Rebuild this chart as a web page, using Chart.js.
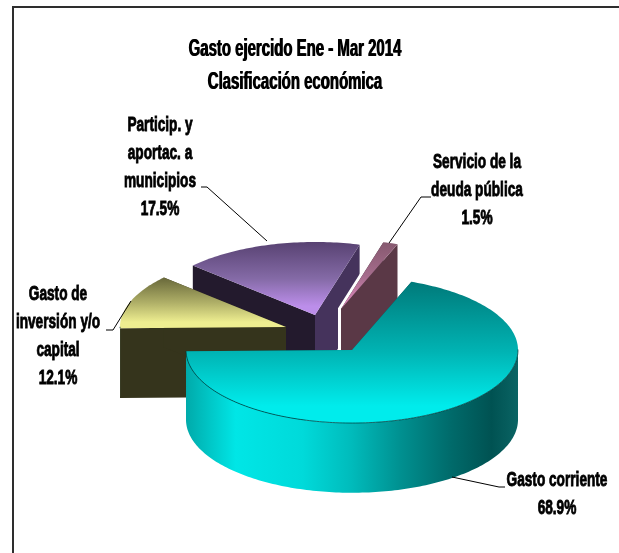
<!DOCTYPE html>
<html>
<head>
<meta charset="utf-8">
<title>Gasto ejercido Ene - Mar 2014</title>
<script src="https://cdn.jsdelivr.net/npm/chart.js@4"></script>
<style>
  html, body { margin: 0; padding: 0; background: #fff; overflow: hidden; }
  #frame { position: absolute; left: 12px; top: 6px; width: 607px; height: 547px; border-top: 2px solid #2e2e2e; border-left: 2px solid #2e2e2e; box-sizing: border-box; }
  #pie { position: absolute; left: 0; top: 0; }
</style>
</head>
<body>
<div id="frame"></div>
<canvas id="pie" width="619" height="553"></canvas>
<script>
// Spending by economic class
const categories = ["Gasto corriente", "Gasto de inversión y/o capital", "Particip. y aportac. a municipios", "Servicio de la deuda pública"];
const values = [68.9, 12.1, 17.5, 1.5];
const titleLines = ["Gasto ejercido Ene - Mar 2014", "Clasificación económica"];
const labelLines = [["Gasto corriente"], ["Gasto de", "inversión y/o", "capital"], ["Particip. y", "aportac. a", "municipios"], ["Servicio de la", "deuda pública"]];

const FONT = '"Liberation Sans", Arial, sans-serif';
const TEXT_SQUEEZE = 0.65;   // the text is set very condensed
const TITLE_CENTER = 295;

// per slice look: how far it is pulled out, its size, and the shades of each face
const sliceStyles = [
  { dx: 57, dy: 0, reach: 1, back: "#007a7a", mid: "#00b4b4", front: "#00ecec", startFace: "#004c4c", endFace: "#004c4c" },
  { dx: -9, dy: -23, reach: 1, back: "#68683a", mid: "#b0b068", front: "#eeee90", startFace: "#35341c", endFace: "#35341c" },
  { dx: 20, dy: -35, reach: 1, back: "#584272", mid: "#846aa6", front: "#bc8eea", startFace: "#231a2d", endFace: "#45335c" },
  { dx: 46, dy: -41, reach: 0.95, back: "#86596f", mid: "#a56c8c", front: "#d484b4", startFace: "#3a2630", endFace: "#5a3846", gap: true }
];

// text block placement, with the elbow leader that runs to the slice
const labelStyles = [
  { x: 557, y: 480, leader: [[505, 487], [499, 487], [452, 477]] },
  { x: 58, y: 294, leader: [[106, 330], [113, 330], [131, 301]] },
  { x: 160, y: 125, leader: [[201, 187], [207, 187], [267, 241]] },
  { x: 477, y: 162, leader: [[431, 197], [421, 197], [389, 243]] }
];

const LINE_GAP = 28;
const TILT = 0.44;    // height of the flattened circle against its width
const DEPTH = 0.42;   // wall height, as a share of the radius

function topPoint(o, r, ang) { return [o.x + r * Math.cos(ang), o.y + r * TILT * Math.sin(ang)]; }
function lowPoint(o, r, ang, depth) { const p = topPoint(o, r, ang); return [p[0], p[1] + depth]; }

function trace(ctx, pts) {
  ctx.beginPath();
  pts.forEach((p, i) => (i ? ctx.lineTo(p[0], p[1]) : ctx.moveTo(p[0], p[1])));
  ctx.closePath();
}

function arcSamples(from, to) {
  const steps = Math.max(4, Math.ceil((to - from) / 0.02));
  const out = [];
  for (let i = 0; i <= steps; i++) out.push(from + (to - from) * i / steps);
  return out;
}

function drawSlice(ctx, arc, style) {
  const r = arc.outerRadius * style.reach;
  const depth = arc.outerRadius * DEPTH;
  const a0 = arc.startAngle, a1 = arc.endAngle;
  const o = { x: arc.x + style.dx, y: arc.y + style.dy };

  // keep a sliver of white between this slice and its neighbour behind
  if (style.gap) {
    ctx.beginPath();
    const tip = topPoint(o, r, a0);
    ctx.moveTo(tip[0], tip[1]);
    ctx.lineTo(o.x, o.y);
    ctx.lineTo(o.x, o.y + depth);
    ctx.strokeStyle = "#fff";
    ctx.lineWidth = 6;
    ctx.stroke();
  }

  // the two cut faces
  [[a0, style.startFace], [a1, style.endFace]].forEach(([ang, color]) => {
    trace(ctx, [[o.x, o.y], topPoint(o, r, ang), lowPoint(o, r, ang, depth), [o.x, o.y + depth]]);
    ctx.fillStyle = color;
    ctx.fill();
  });

  // curved wall, only the part that faces the viewer
  const near = arcSamples(a0, a1).filter(a => Math.sin(a) >= -0.02);
  if (near.length > 1) {
    const upper = near.map(a => topPoint(o, r, a));
    const lower = near.map(a => lowPoint(o, r, a, depth)).reverse();
    const wall = ctx.createLinearGradient(o.x - r, 0, o.x + r, 0);
    wall.addColorStop(0, "#00aaaa");
    wall.addColorStop(0.15, "#00e6e6");
    wall.addColorStop(0.35, "#00dada");
    wall.addColorStop(0.5, "#00bbbb");
    wall.addColorStop(0.65, "#008f8f");
    wall.addColorStop(0.8, "#006a6a");
    wall.addColorStop(0.92, "#005252");
    wall.addColorStop(1, "#0a6464");
    trace(ctx, upper.concat(lower));
    ctx.fillStyle = wall;
    ctx.fill();
  }

  // top surface
  const rim = arcSamples(a0, a1).map(a => topPoint(o, r, a));
  const ys = rim.map(p => p[1]).concat(o.y);
  const top = ctx.createLinearGradient(0, Math.min(...ys), 0, Math.max(...ys));
  top.addColorStop(0, style.back);
  top.addColorStop(0.5, style.mid);
  top.addColorStop(0.88, style.front);
  top.addColorStop(1, style.front);
  trace(ctx, [[o.x, o.y]].concat(rim));
  ctx.fillStyle = top;
  ctx.fill();

  // thin dark edge where the top meets the wall
  if (near.length > 1) {
    ctx.beginPath();
    near.forEach((a, i) => {
      const p = topPoint(o, r, a);
      i ? ctx.lineTo(p[0], p[1]) : ctx.moveTo(p[0], p[1]);
    });
    ctx.strokeStyle = "rgba(0,50,50,0.7)";
    ctx.lineWidth = 1;
    ctx.stroke();
  }
}

function drawLabels(ctx) {
  labelStyles.forEach((st, i) => {
    const lines = labelLines[i].concat(values[i].toFixed(1) + "%");
    ctx.save();
    ctx.translate(st.x, 0);
    ctx.scale(TEXT_SQUEEZE, 1);
    ctx.font = "bold 21px " + FONT;
    ctx.textAlign = "center";
    ctx.textBaseline = "middle";
    ctx.fillStyle = "#000";
    ctx.strokeStyle = "#000";
    ctx.lineWidth = 0.9;
    lines.forEach((t, n) => {
      ctx.fillText(t, 0, st.y + n * LINE_GAP);
      ctx.strokeText(t, 0, st.y + n * LINE_GAP);
    });
    ctx.restore();

    ctx.beginPath();
    st.leader.forEach((p, n) => (n ? ctx.lineTo(p[0], p[1]) : ctx.moveTo(p[0], p[1])));
    ctx.strokeStyle = "#000";
    ctx.lineWidth = 1;
    ctx.stroke();
  });
}

const pie3d = {
  id: "pie3d",
  afterLayout(chart) {
    // condense the title block the same way as the labels, and thicken it
    const block = chart.titleBlock;
    if (block._squeezed) return;
    block._squeezed = true;
    const plainDraw = block.draw;
    block.draw = function () {
      const ctx = chart.ctx;
      [-0.4, 0.4].forEach(shift => {
        ctx.save();
        ctx.translate(TITLE_CENTER + shift, 0);
        ctx.scale(TEXT_SQUEEZE, 1);
        ctx.translate(-TITLE_CENTER, 0);
        plainDraw.call(block);
        ctx.restore();
      });
    };
  },
  beforeDatasetsDraw(chart) {
    const ctx = chart.ctx;
    const arcs = chart.getDatasetMeta(0).data;
    ctx.save();
    // far slices first so the big slice ends up on top
    [2, 3, 1, 0].forEach(i => drawSlice(ctx, arcs[i], sliceStyles[i]));
    drawLabels(ctx);
    ctx.restore();
    return false;
  }
};

new Chart(document.getElementById("pie"), {
  type: "pie",
  data: {
    labels: categories,
    datasets: [{
      data: values,
      backgroundColor: ["#00e6e6", "#e8e88a", "#b98ae6", "#c77fa8"],
      borderWidth: 0
    }]
  },
  options: {
    responsive: false,
    animation: false,
    rotation: 21,
    layout: { padding: { left: 0, right: 29, top: 0, bottom: 37 } },
    plugins: {
      legend: { display: false },
      tooltip: { enabled: false },
      title: {
        display: true,
        text: titleLines,
        color: "#000",
        font: { family: FONT, size: 23, weight: "bold", lineHeight: 1.435 },
        padding: { top: 33, bottom: 85 }
      }
    }
  },
  plugins: [pie3d]
});
</script>
</body>
</html>
